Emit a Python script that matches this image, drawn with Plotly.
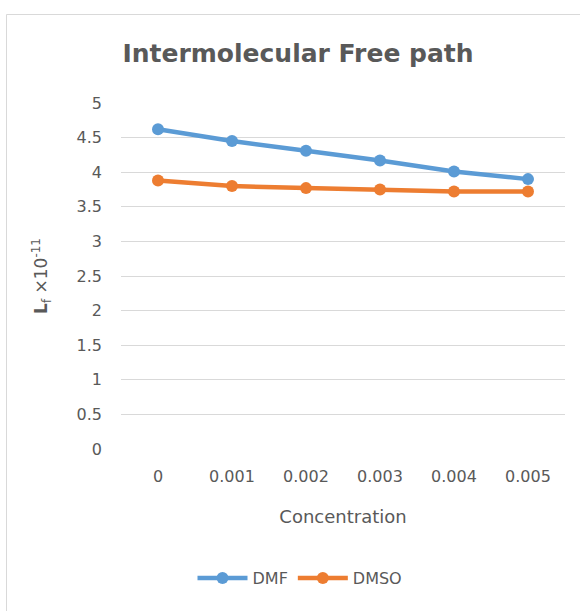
import plotly.graph_objects as go

categories = ["0", "0.001", "0.002", "0.003", "0.004", "0.005"]
dmf = [4.62, 4.45, 4.31, 4.17, 4.01, 3.90]
dmso = [3.88, 3.80, 3.77, 3.75, 3.72, 3.72]
y_ticks = [0, 0.5, 1, 1.5, 2, 2.5, 3, 3.5, 4, 4.5, 5]
y_tick_text = ["0", "0.5", "1", "1.5", "2", "2.5", "3", "3.5", "4", "4.5", "5"]

BLUE = "#5B9BD5"
ORANGE = "#ED7D31"
GRAY = "#595959"
FONT = "DejaVu Sans, sans-serif"

fig = go.Figure()
fig.add_trace(go.Scatter(x=categories, y=dmf, name="DMF", mode="lines+markers",
                         line=dict(color=BLUE, width=4.5), marker=dict(size=12, color=BLUE)))
fig.add_trace(go.Scatter(x=categories, y=dmso, name="DMSO", mode="lines+markers",
                         line=dict(color=ORANGE, width=4.5), marker=dict(size=12, color=ORANGE)))

L, R, T, B = 121, 15, 103, 162
W, H = 580, 611
pw, ph = W - L - R, H - T - B

fig.update_layout(
    width=W, height=H,
    margin=dict(l=L, r=R, t=T, b=B),
    paper_bgcolor="white", plot_bgcolor="white",
    font=dict(family=FONT, color=GRAY, size=16),
    title=dict(text="<b>Intermolecular Free path</b>", x=298 / W, xanchor="center",
               y=1 - 53 / H, yanchor="middle",
               font=dict(size=25, color=GRAY, family=FONT)),
    showlegend=True,
    legend=dict(orientation="h", x=(300 - L) / pw, xanchor="center",
                y=(H - B - 578) / ph, yanchor="middle",
                font=dict(size=16, color=GRAY, family=FONT), itemwidth=50),
    xaxis=dict(type="category", range=[-0.5, 5.5], showgrid=False, zeroline=False,
               showline=False, ticks="", ticklabelstandoff=16,
               tickfont=dict(size=16, color=GRAY, family=FONT),
               title=dict(text="Concentration", font=dict(size=18, color=GRAY, family=FONT),
                          standoff=25)),
    yaxis=dict(range=[0, 5], tickvals=y_ticks, ticktext=y_tick_text,
               showgrid=True, gridcolor="#d9d9d9", gridwidth=1, zeroline=False,
               showline=False, ticks="", ticklabelstandoff=18,
               tickfont=dict(size=16, color=GRAY, family=FONT),
               title=dict(text="<b>L</b><sub>f</sub> ×10<sup>-11</sup>",
                          font=dict(size=17, color=GRAY, family=FONT), standoff=24)),
)

# chart frame border
fig.add_shape(type="rect", xref="paper", yref="paper",
              x0=(6.5 - L) / pw, x1=(W + 20 - L) / pw,
              y0=(H - B - (H + 20)) / ph, y1=(H - B - 14.5) / ph,
              line=dict(color="#d9d9d9", width=1), fillcolor="rgba(0,0,0,0)", layer="below")

fig.write_html("out.html")
